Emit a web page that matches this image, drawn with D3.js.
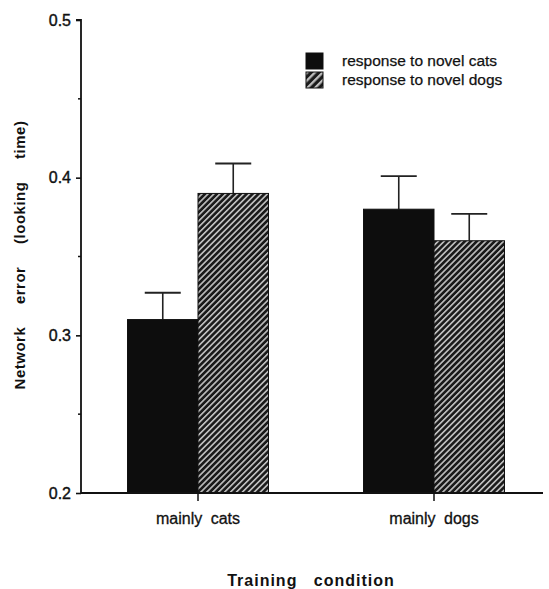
<!DOCTYPE html>
<html>
<head>
<meta charset="utf-8">
<script src="https://cdn.jsdelivr.net/npm/d3@7"></script>
<style>
  html, body { margin: 0; padding: 0; background: #fff; }
  svg { display: block; }
  text { font-family: "Liberation Sans", Arial, Helvetica, sans-serif; fill: #111; }
</style>
</head>
<body>
<script>
// ---- data ----
const categories = ["mainly cats", "mainly dogs"];
const seriesNames = ["response to novel cats", "response to novel dogs"];
const novelCats = [0.31, 0.38];
const novelDogs = [0.39, 0.36];
const errCats = [0.017, 0.021];
const errDogs = [0.019, 0.017];
const yTicks = [0.2, 0.3, 0.4, 0.5];
const yMinorTicks = [0.25, 0.35, 0.45];

const W = 549, H = 589;
const svg = d3.select("body").append("svg").attr("width", W).attr("height", H);

const defs = svg.append("defs");
function hatch(id, size, lw) {
  const p = defs.append("pattern").attr("id", id)
    .attr("patternUnits", "userSpaceOnUse")
    .attr("width", size).attr("height", size)
    .attr("patternTransform", "rotate(45)");
  p.append("rect").attr("width", size).attr("height", size).attr("fill", "#1a1a1a");
  p.append("rect").attr("x", 0).attr("y", 0).attr("width", lw).attr("height", size).attr("fill", "#c0c0c0");
}
hatch("hatchBar", 4.2, 1.6);
hatch("hatchLegend", 5.5, 2.3);

const fills = ["#0d0d0d", "url(#hatchBar)"];
const legendFills = ["#0d0d0d", "url(#hatchLegend)"];

const y = d3.scaleLinear().domain([0.2, 0.5]).range([493, 20]);
const x0 = d3.scaleBand().domain(categories).range([80, 552]).paddingInner(0).paddingOuter(0);
const x1 = d3.scaleBand().domain(seriesNames).range([0, x0.bandwidth()]).paddingInner(0).paddingOuter(0.674);

const rows = categories.map((c, i) => ({
  cat: c,
  vals: [
    { s: seriesNames[0], v: novelCats[i], e: errCats[i], k: 0 },
    { s: seriesNames[1], v: novelDogs[i], e: errDogs[i], k: 1 }
  ]
}));

const groups = svg.append("g").selectAll("g").data(rows).join("g")
  .attr("transform", d => `translate(${x0(d.cat)},0)`);

// error bars (behind bars)
groups.selectAll("g.err").data(d => d.vals).join("g").attr("class", "err").each(function (d) {
  const g = d3.select(this);
  const cx = x1(d.s) + x1.bandwidth() / 2;
  g.append("line").attr("x1", cx).attr("x2", cx).attr("y1", y(d.v)).attr("y2", y(d.v + d.e))
    .attr("stroke", "#222").attr("stroke-width", 1.6);
  g.append("line").attr("x1", cx - 18).attr("x2", cx + 18).attr("y1", y(d.v + d.e)).attr("y2", y(d.v + d.e))
    .attr("stroke", "#222").attr("stroke-width", 1.8);
});

groups.selectAll("rect.bar").data(d => d.vals).join("rect").attr("class", "bar")
  .attr("x", d => x1(d.s))
  .attr("width", x1.bandwidth())
  .attr("y", d => y(d.v))
  .attr("height", d => y(0.2) - y(d.v))
  .attr("fill", d => fills[d.k])
  .attr("stroke", "#111").attr("stroke-width", 1);

// y axis
const yAxis = svg.append("g").attr("transform", "translate(81,0)")
  .call(d3.axisLeft(y).tickValues(yTicks).tickFormat(d3.format(".1f")).tickSize(5).tickPadding(5));
yAxis.select(".domain").attr("stroke", "#111").attr("stroke-width", 1.8).attr("d", `M-5,${y(0.5)}H0V${y(0.2)}`);
yAxis.selectAll(".tick line").attr("stroke", "#111").attr("stroke-width", 1.6);
yAxis.selectAll(".tick text").attr("font-size", 16).attr("fill", "#111")
  .attr("stroke", "#111").attr("stroke-width", 0.4)
  .attr("font-family", "Liberation Sans, Arial, sans-serif");
svg.append("g").selectAll("line").data(yMinorTicks).join("line")
  .attr("x1", 78).attr("x2", 81).attr("y1", d => y(d)).attr("y2", d => y(d))
  .attr("stroke", "#111").attr("stroke-width", 1.5);

// x axis
svg.append("line").attr("x1", 81).attr("x2", 543).attr("y1", y(0.2)).attr("y2", y(0.2))
  .attr("stroke", "#111").attr("stroke-width", 1.8);
const xAxis = svg.append("g").attr("transform", `translate(0,${y(0.2)})`)
  .call(d3.axisBottom(x0).tickSize(8).tickPadding(12));
xAxis.select(".domain").remove();
xAxis.selectAll(".tick line").attr("stroke", "#111").attr("stroke-width", 1.5);
xAxis.selectAll(".tick text").attr("font-size", 16).attr("fill", "#111")
  .attr("stroke", "#111").attr("stroke-width", 0.3)
  .attr("font-family", "Liberation Sans, Arial, sans-serif")
  .style("word-spacing", "4px");

// axis titles
svg.append("text")
  .attr("transform", "translate(25,255) rotate(-90)")
  .attr("text-anchor", "middle")
  .attr("font-size", 15).attr("font-weight", "bold")
  .style("word-spacing", "18px")
  .style("letter-spacing", "0.5px")
  .text("Network error (looking time)");
svg.append("text")
  .attr("x", 311).attr("y", 586)
  .attr("text-anchor", "middle")
  .attr("font-size", 16).attr("font-weight", "bold")
  .style("word-spacing", "11px")
  .style("letter-spacing", "1px")
  .text("Training condition");

// legend
const legend = svg.append("g").attr("transform", "translate(306,53)");
const li = legend.selectAll("g").data(seriesNames).join("g")
  .attr("transform", (d, i) => `translate(0,${i * 19})`);
li.append("rect").attr("width", 17).attr("height", 16)
  .attr("fill", (d, i) => legendFills[i]).attr("stroke", "#111").attr("stroke-width", 1);
li.append("text").attr("x", 36).attr("y", 13).attr("font-size", 15.5)
  .attr("stroke", "#111").attr("stroke-width", 0.25)
  .text(d => d);
</script>
</body>
</html>
